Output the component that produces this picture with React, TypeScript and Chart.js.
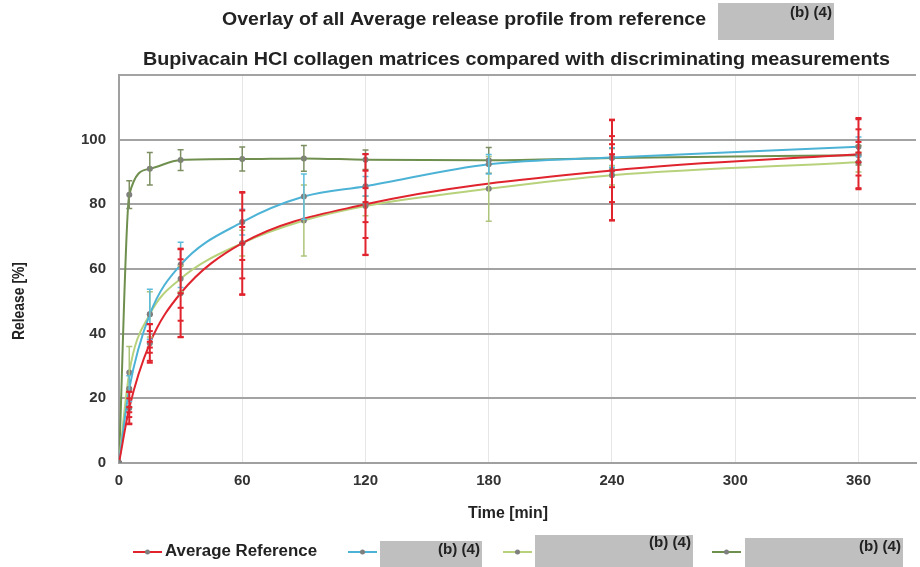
import React, { useEffect, useRef } from "react";
import { Chart, registerables } from "chart.js";
Chart.register(...registerables);

// ---- data ----
const times = [0, 5, 15, 30, 60, 90, 120, 180, 240, 360];
const refTimes = [0, 5, 15, 30, 60, 120, 240, 360];
const refValues = [0, 17, 37, 52.5, 68, 80, 90.5, 95.5];
const refErrors = [0, 5, 6, 13.6, 15.8, 15.6, 15.5, 10.8];
const refMarks = [
  [],
  [22, 20, 17.3, 15.7, 14.2, 12.2],
  [42.9, 40.8, 37.5, 35.7, 34.1, 31.6],
  [66.3, 63, 52.5, 48, 44, 39],
  [83.6, 78.1, 73, 67.9, 62.8, 57.1, 52],
  [95.5, 90.4, 85, 80.7, 74.5, 69.6, 64.3],
  [106.2, 101.1, 98.6, 95.5, 90.4, 85.3, 80.7, 75.1],
  [106.7, 103.2, 99.3, 96, 93, 88.9, 85],
];
const blueValues = [0, 23, 46, 61.3, 74.5, 82.4, 85.6, 92.4, 94.5, 97.8];
const blueErrors = [0, 4, 7.7, 7, 4, 7, 3, 3, 3, 3];
const lightValues = [0, 28, 46, 57, 68, 75, 79.5, 84.8, 89, 93];
const lightErrors = [0, 8, 7, 4, 4, 11, 3, 10, 3, 3];
const darkValues = [0, 83, 91, 93.7, 94, 94.2, 93.8, 93.6, 94.3, 95.2];
const darkErrors = [0, 4.3, 5, 3.2, 3.7, 4, 3, 4, 3, 3];

const xTicks = [0, 60, 120, 180, 240, 300, 360];
const legendLabels = ["Average Reference", "", "", ""];
const titleLine1 = "Overlay of all Average release profile from reference";
const titleLine2 = "Bupivacain HCl collagen matrices compared with discriminating measurements";
const redaction = "(b) (4)";

const RED = "#e0242e";
const BLUE = "#4cb3d6";
const LIGHT = "#b8d27c";
const DARK = "#6f8f4e";
const POINT = "#7f7f7f";
const FONT = '"Liberation Sans", Arial, sans-serif';

function pts(xs: number[], ys: number[]) {
  return xs.map((x, i) => ({ x, y: ys[i] }));
}

function stretchText(ctx: CanvasRenderingContext2D, text: string, x: number, y: number, size: number, width: number, color: string, rotate = false) {
  ctx.save();
  ctx.font = `bold ${size}px ${FONT}`;
  ctx.fillStyle = color;
  ctx.textBaseline = "middle";
  ctx.textAlign = "left";
  const m = ctx.measureText(text).width;
  ctx.translate(x, y);
  if (rotate) ctx.rotate(-Math.PI / 2);
  ctx.scale(width / m, 1);
  ctx.fillText(text, 0, 0);
  ctx.restore();
}

const errorPlugin = {
  id: "errorBars",
  afterDatasetsDraw(chart: any) {
    const ctx = chart.ctx as CanvasRenderingContext2D;
    const xs = chart.scales.x;
    const ys = chart.scales.y;
    const sets = [
      { t: times, v: darkValues, e: darkErrors, c: "#7d8f62", w: 1.5 },
      { t: times, v: lightValues, e: lightErrors, c: "#adc47a", w: 1.5 },
      { t: times, v: blueValues, e: blueErrors, c: "#5dbcdc", w: 1.5 },
      { t: refTimes, v: refValues, e: refErrors, c: RED, w: 2 },
    ];
    ctx.save();
    ctx.beginPath();
    ctx.rect(chart.chartArea.left, chart.chartArea.top, chart.chartArea.right - chart.chartArea.left, chart.chartArea.bottom - chart.chartArea.top);
    ctx.clip();
    for (const s of sets) {
      ctx.strokeStyle = s.c;
      ctx.lineWidth = s.w;
      s.t.forEach((t, i) => {
        if (!s.e[i]) return;
        const px = xs.getPixelForValue(t);
        const y1 = ys.getPixelForValue(s.v[i] + s.e[i]);
        const y2 = ys.getPixelForValue(s.v[i] - s.e[i]);
        ctx.beginPath();
        ctx.moveTo(px, y1);
        ctx.lineTo(px, y2);
        ctx.moveTo(px - 3, y1);
        ctx.lineTo(px + 3, y1);
        ctx.moveTo(px - 3, y2);
        ctx.lineTo(px + 3, y2);
        ctx.stroke();
      });
    }
    // individual red marks
    ctx.strokeStyle = RED;
    ctx.lineWidth = 2;
    refTimes.forEach((t, i) => {
      const px = xs.getPixelForValue(t);
      refMarks[i].forEach((v) => {
        const py = ys.getPixelForValue(v);
        ctx.beginPath();
        ctx.moveTo(px - 3, py);
        ctx.lineTo(px + 3, py);
        ctx.stroke();
      });
    });
    ctx.restore();
  },
};

const decoPlugin = {
  id: "deco",
  afterDraw(chart: any) {
    const ctx = chart.ctx as CanvasRenderingContext2D;
    // titles
    stretchText(ctx, titleLine1, 222, 20, 18, 484, "#222");
    ctx.fillStyle = "#bfbfbf";
    ctx.fillRect(718, 3, 116, 37);
    stretchText(ctx, redaction, 790, 13, 14, 42, "#222");
    stretchText(ctx, titleLine2, 143, 60, 19, 747, "#222");
    // axis titles
    stretchText(ctx, "Release [%]", 19, 340, 17, 78, "#222", true);
    stretchText(ctx, "Time [min]", 468, 513, 17, 80, "#222");
    // legend
    const colors = [RED, BLUE, LIGHT, DARK];
    const samples = [133, 348, 503, 712];
    samples.forEach((sx, i) => {
      ctx.strokeStyle = colors[i];
      ctx.lineWidth = 2;
      ctx.beginPath();
      ctx.moveTo(sx, 552);
      ctx.lineTo(sx + 29, 552);
      ctx.stroke();
      ctx.fillStyle = POINT;
      ctx.beginPath();
      ctx.arc(sx + 14.5, 552, 2.5, 0, Math.PI * 2);
      ctx.fill();
    });
    stretchText(ctx, legendLabels[0], 165, 552, 16, 152, "#222");
    const boxes = [
      { x: 380, y: 541, w: 102, h: 26, ty: 550 },
      { x: 535, y: 535, w: 158, h: 32, ty: 543 },
      { x: 745, y: 538, w: 158, h: 29, ty: 547 },
    ];
    boxes.forEach((b) => {
      ctx.fillStyle = "#bfbfbf";
      ctx.fillRect(b.x, b.y, b.w, b.h);
      stretchText(ctx, redaction, b.x + b.w - 44, b.ty, 14, 42, "#222");
    });
  },
};

export default function App() {
  const ref = useRef<HTMLCanvasElement | null>(null);
  useEffect(() => {
    if (!ref.current) return;
    const lineDs = (label: string, data: any[], color: string) => ({
      label,
      data,
      borderColor: color,
      backgroundColor: color,
      borderWidth: 2,
      pointRadius: 3,
      pointBackgroundColor: POINT,
      pointBorderColor: POINT,
      pointBorderWidth: 0,
      cubicInterpolationMode: "monotone" as const,
      fill: false,
    });
    const chart = new Chart(ref.current, {
      type: "line",
      data: {
        datasets: [
          lineDs(legendLabels[0], pts(refTimes, refValues), RED),
          lineDs(legendLabels[1], pts(times, blueValues), BLUE),
          lineDs(legendLabels[2], pts(times, lightValues), LIGHT),
          lineDs(legendLabels[3], pts(times, darkValues), DARK),
        ],
      },
      options: {
        animation: false,
        responsive: false,
        layout: { padding: { top: 75, left: 0, right: 2, bottom: 0 } },
        plugins: { legend: { display: false }, title: { display: false }, tooltip: { enabled: false } },
        scales: {
          x: {
            type: "linear",
            min: 0,
            max: 388,
            afterBuildTicks: (axis: any) => {
              axis.ticks = xTicks.map((v) => ({ value: v }));
            },
            afterFit: (axis: any) => {
              axis.height = 104;
            },
            grid: { color: "#e6e6e6", lineWidth: 1, drawTicks: false },
            border: { color: "#a0a0a0", width: 2 },
            ticks: { padding: 9, color: "#333", font: { family: FONT, size: 15, weight: "bold" }, maxRotation: 0 },
          },
          y: {
            min: 0,
            max: 120,
            afterFit: (axis: any) => {
              axis.width = 119;
            },
            grid: { color: "#a3a3a3", lineWidth: 2, drawTicks: false },
            border: { color: "#a0a0a0", width: 2 },
            ticks: {
              stepSize: 20,
              padding: 13,
              color: "#333",
              font: { family: FONT, size: 15, weight: "bold" },
              callback: (v: any) => (v === 120 ? "" : String(v)),
            },
          },
        },
      },
      plugins: [errorPlugin, decoPlugin],
    });
    return () => chart.destroy();
  }, []);
  return (
    <div style={{ position: "fixed", left: 0, top: 0, width: 920, height: 567, background: "#fff" }}>
      <canvas ref={ref} width={920} height={567} />
    </div>
  );
}
